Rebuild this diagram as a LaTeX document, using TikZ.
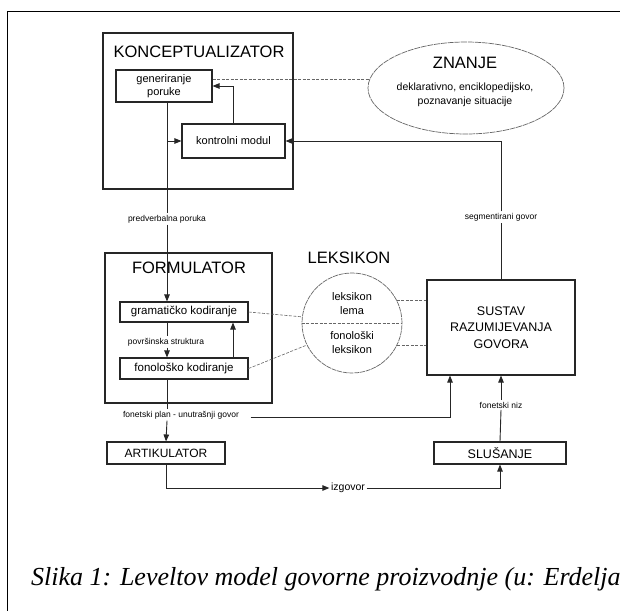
\documentclass[tikz,border=0pt]{standalone}
\usepackage{fontspec}
\setmainfont{Liberation Sans}
\newfontfamily\capfont{Liberation Serif}
\usetikzlibrary{arrows.meta,shapes.geometric}
\tikzset{
  box/.style={draw=black!85, line width=1.1pt, inner sep=0pt, align=center},
  bigbox/.style={draw=black!85, line width=1.3pt, inner sep=0pt},
  title/.style={font=\fontsize{16.5}{18}\selectfont, inner sep=0pt},
  lbl/.style={font=\fontsize{8.5}{10}\selectfont, inner sep=1.5pt, fill=white},
  conn/.style={draw=black!85, line width=0.9pt},
  arr/.style={conn, -{Triangle[length=7pt,width=5.5pt]}},
  dsh/.style={draw=black!60, line width=0.6pt, dash pattern=on 3pt off 1.5pt},
}
\begin{document}
\begin{tikzpicture}[x=1pt,y=-1pt]
\clip (0,0) rectangle (620,610);
\fill[white] (0,0) rectangle (620,610);
% outer frame
\draw[line width=0.9pt] (7,640) -- (7,11) -- (640,11);
\coordinate (col) at (167,0);
\coordinate (col2) at (233,0);
\coordinate (col3) at (450,0);

% KONCEPTUALIZATOR
\node[bigbox, minimum width=190pt, minimum height=156pt] (konc) at (198,111) {};
\node[title] (konct) at (199,52) {KONCEPTUALIZATOR};
\node[box, minimum width=96pt, minimum height=32pt, font=\fontsize{11}{13}\selectfont] (gen) at (164,86) {generiranje\\poruke};
\node[box, minimum width=103pt, minimum height=34pt, font=\fontsize{11}{13}\selectfont] (kont) at (233.5,141) {kontrolni modul};

% ZNANJE
\node[ellipse, draw=black!60, line width=0.7pt, dash pattern=on 6pt off 0.8pt, minimum width=196pt, minimum height=92pt, inner sep=0pt] (znanje) at (466,88) {};
\node[title] (znt) at (465,63) {ZNANJE};
\node[font=\fontsize{10.5}{13.5}\selectfont, align=center, inner sep=0pt] (znd) at (465,95) {deklarativno, enciklopedijsko,\\poznavanje situacije};
\coordinate (zk) at ([shift={(-96,-9)}]znanje.center);

% FORMULATOR
\node[bigbox, minimum width=167pt, minimum height=150pt] (form) at (188.5,328) {};
\node[title] (formt) at (189,268) {FORMULATOR};
\node[box, minimum width=128pt, minimum height=20pt, font=\fontsize{11.5}{13}\selectfont] (gram) at (184,312) {gramatičko kodiranje};
\node[box, minimum width=128pt, minimum height=21pt, font=\fontsize{11.5}{13}\selectfont] (fono) at (184,368.5) {fonološko kodiranje};

% LEKSIKON
\node[title] (lekt) at (349,258) {LEKSIKON};
\node[circle, draw=black!60, line width=0.7pt, dash pattern=on 5pt off 0.8pt, minimum size=100pt, inner sep=0pt] (leks) at (352,323) {};
\node[font=\fontsize{11}{14}\selectfont, align=center, inner sep=0pt] (leks1) at (352,304) {leksikon\\lema};
\node[font=\fontsize{11}{14}\selectfont, align=center, inner sep=0pt] (leks2) at (352,343) {fonološki\\leksikon};

% SUSTAV
\node[box, minimum width=148pt, minimum height=95pt, font=\fontsize{12.5}{16.5}\selectfont] (sustav) at (501,327.5) {SUSTAV\\RAZUMIJEVANJA\\GOVORA};

% ARTIKULATOR, SLUSANJE
\node[box, minimum width=118pt, minimum height=22pt, font=\fontsize{12}{14}\selectfont] (art) at (166,453) {ARTIKULATOR};
\node[box, minimum width=132pt, minimum height=22pt, font=\fontsize{12.5}{14}\selectfont] (slu) at (500,453) {SLUŠANJE};

% labels
\node[lbl] (pv) at (167,219) {predverbalna poruka};
\node[lbl] (ps) at (166,342) {površinska struktura};
\node[lbl] (fp) at (181,415) {fonetski plan - unutrašnji govor};
\node[lbl] (sg) at (501,217) {segmentirani govor};
\node[lbl] (fn) at (501,405) {fonetski niz};
\node[lbl, font=\fontsize{10.5}{12}\selectfont] (izg) at (348,488) {izgovor};

% connectors
\draw[conn] (gen.south -| col) -- (pv.north -| col);
\draw[arr] (pv.south -| col) -- (gram.north -| col);
\draw[arr] (kont.west -| col) -- (kont.west);
\draw[arr] (kont.north) |- (gen.east);
\draw[dsh] (gen.east |- zk) -- (zk);
\draw[conn] (sustav.north) -- (sg.south);
\draw[arr] (sg.north) |- (kont.east);
\draw[conn] (gram.south -| col) -- (ps.north -| col);
\draw[arr] (ps.south -| col) -- (fono.north -| col);
\draw[arr] (fono.north -| col2) -- (gram.south -| col2);
\draw[conn] (fono.south -| col) -- (fp.north -| col);
\draw[arr] (fp.south -| col) -- (art.north);
\draw[arr] ([xshift=10pt,yshift=-2pt]fp.east) -| (sustav.south -| col3);
\draw[arr] (art.south) |- (izg.west);
\draw[arr] (izg.east) -| (slu.south);
\draw[conn] (slu.north) -- (fn.south);
\draw[arr] (fn.north) -- (sustav.south);
% dashed lexicon links
\draw[dsh] (leks.west) -- (leks.east);
\draw[dsh] (gram.east) -- (leks.173);
\draw[dsh] (fono.east) -- (leks.206);
\draw[dsh] (leks.27) -- (leks.27 -| sustav.west);
\draw[dsh] (leks.334) -- (leks.334 -| sustav.west);

% caption
\node[anchor=base west, inner sep=0pt, font=\capfont\itshape\fontsize{26}{30}\selectfont] (cap) at (31,585) {Slika 1: Leveltov model govorne proizvodnje (u: Erdelja};
\end{tikzpicture}
\end{document}
